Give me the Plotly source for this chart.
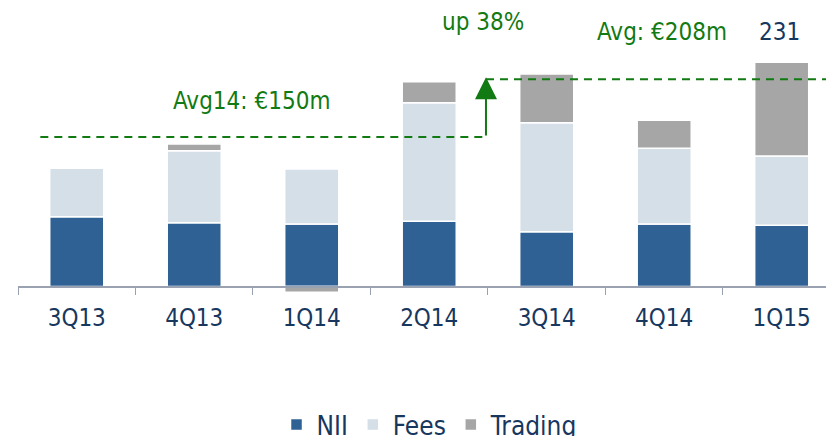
import plotly.graph_objects as go

categories = ["3Q13", "4Q13", "1Q14", "2Q14", "3Q14", "4Q14", "1Q15"]
nii = [71.9, 65.7, 64.4, 67.2, 56.5, 64.4, 63.1]
fees = [49.9, 74.2, 56.7, 122.2, 112.3, 78.0, 71.4]
trading = [0.0, 6.9, -6.0, 21.6, 50.1, 28.8, 96.5]

avg14_level = 154.0
avg15_level = 213.5
avg14_span = [-0.31, 3.483]
avg15_span = [3.483, 6.5]

FONT = "DejaVu Sans Condensed, DejaVu Sans, sans-serif"
NAVY = "#17375E"
GREEN = "#127A12"

fig = go.Figure()
for name, vals, col in [("NII", nii, "#2F6195"), ("Fees", fees, "#D5DFE8"), ("Trading", trading, "#A6A6A6")]:
    fig.add_trace(go.Bar(
        x=categories, y=vals, name=name, width=0.46,
        marker=dict(color=col, line=dict(color="white", width=1.5)),
        hoverinfo="skip",
    ))

fig.add_shape(type="line", xref="x", yref="y", x0=avg14_span[0], x1=avg14_span[1],
              y0=avg14_level, y1=avg14_level, line=dict(color=GREEN, width=2, dash="8px,6px"))
fig.add_shape(type="line", xref="x", yref="y", x0=avg15_span[0], x1=avg15_span[1],
              y0=avg15_level, y1=avg15_level, line=dict(color=GREEN, width=2, dash="8px,6px"))

fig.add_annotation(x=avg14_span[1], y=avg15_level + 2, ax=avg14_span[1], ay=avg14_level,
                   xref="x", yref="y", axref="x", ayref="y", text="", showarrow=True,
                   arrowhead=2, arrowsize=2.2, arrowwidth=2, arrowcolor=GREEN)

ann_font = dict(family=FONT, size=24, color=GREEN)
fig.add_annotation(x=3.457, y=272.5, xref="x", yref="y", text="up 38%", showarrow=False, font=ann_font)
fig.add_annotation(x=4.98, y=262.2, xref="x", yref="y", text="Avg: €208m", showarrow=False, font=ann_font)
fig.add_annotation(x=5.98, y=262.2, xref="x", yref="y", text="231", showarrow=False,
                   font=dict(family=FONT, size=24, color=NAVY))
fig.add_annotation(x=1.49, y=191.1, xref="x", yref="y", text="Avg14: €150m", showarrow=False, font=ann_font)

fig.update_layout(
    width=826, height=436,
    margin=dict(l=18, r=0, t=10, b=136, autoexpand=False),
    plot_bgcolor="white", paper_bgcolor="white",
    barmode="relative", bargap=0.54,
    showlegend=True,
    legend=dict(orientation="h", x=0.52, xanchor="center", xref="container",
                y=1 - 401 / 436, yanchor="top", yref="container",
                font=dict(family=FONT, size=26, color=NAVY), traceorder="normal"),
    xaxis=dict(range=[-0.5, 6.377], tickson="boundaries", ticks="outside", ticklen=8,
               tickcolor="#9AA1B1", showline=True, linecolor="#9AA1B1", linewidth=1.5,
               anchor="free", position=13.5 / 290, showgrid=False, automargin=False,
               ticklabelstandoff=10,
               tickfont=dict(family=FONT, size=24, color=NAVY)),
    yaxis=dict(range=[-13.9, 284.9], visible=False, showgrid=False, zeroline=False,
               automargin=False),
)

fig.write_html("out.html", config={"displayModeBar": False},
               post_script="document.body.style.margin='0';document.body.style.overflow='hidden';")
